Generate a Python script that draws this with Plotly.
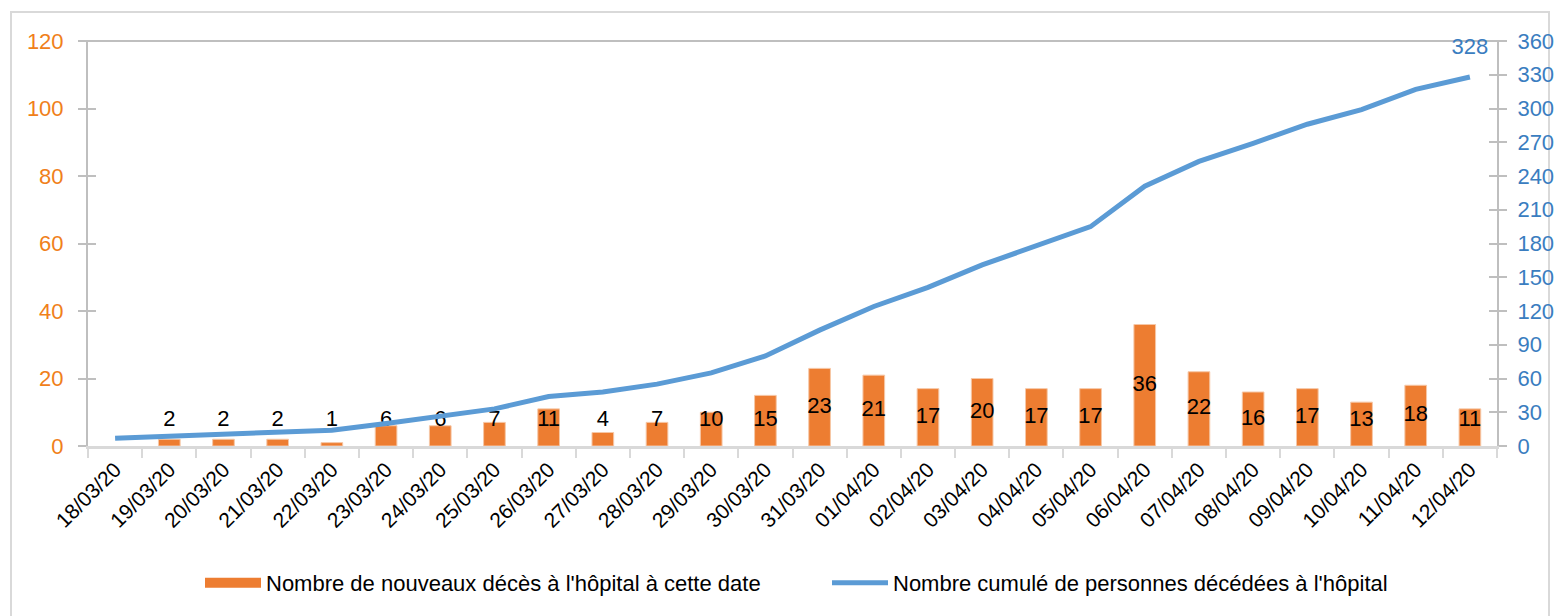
import plotly.graph_objects as go

dates = ["18/03/20", "19/03/20", "20/03/20", "21/03/20", "22/03/20", "23/03/20", "24/03/20",
         "25/03/20", "26/03/20", "27/03/20", "28/03/20", "29/03/20", "30/03/20", "31/03/20",
         "01/04/20", "02/04/20", "03/04/20", "04/04/20", "05/04/20", "06/04/20", "07/04/20",
         "08/04/20", "09/04/20", "10/04/20", "11/04/20", "12/04/20"]
new_deaths = [None, 2, 2, 2, 1, 6, 6, 7, 11, 4, 7, 10, 15, 23, 21, 17, 20, 17, 17, 36, 22,
              16, 17, 13, 18, 11]
cumul = [7, 9, 11, 13, 14, 20, 26, 33, 44, 48, 55, 65, 80, 103, 124, 141, 161, 178, 195,
         231, 253, 269, 286, 299, 317, 328]
left_ticks = [0, 20, 40, 60, 80, 100, 120]
right_ticks = [0, 30, 60, 90, 120, 150, 180, 210, 240, 270, 300, 330, 360]

name_bar = "Nombre de nouveaux décès à l'hôpital à cette date"
name_line = "Nombre cumulé de personnes décédées à l'hôpital"

FONT = "Liberation Sans, Arial, sans-serif"
ORANGE = "#ED7D31"
BLUE = "#5B9BD5"
W, H = 1559, 616
L, R, T, B = 88, 62, 41, 170
pw, ph = W - L - R, H - T - B

fig = go.Figure()
fig.add_trace(go.Bar(x=dates, y=new_deaths, marker=dict(color=ORANGE, line=dict(color="#F6C7A6", width=1)),
                     width=0.4, showlegend=False, yaxis="y"))
# legend proxy for bars
fig.add_trace(go.Scatter(x=[None], y=[None], mode="lines", line=dict(color=ORANGE, width=14),
                         name=name_bar, yaxis="y"))
# data labels
lab_x = [d for d, v in zip(dates, new_deaths) if v is not None]
lab_v = [v for v in new_deaths if v is not None]
fig.add_trace(go.Scatter(x=lab_x, y=[max(v / 2, 7.6) for v in lab_v], mode="text",
                         text=[str(v) for v in lab_v], textfont=dict(family=FONT, size=22, color="black"),
                         showlegend=False, hoverinfo="skip", yaxis="y"))
n = len(cumul)
fig.add_trace(go.Scatter(x=dates, y=cumul, mode="lines+markers+text", line=dict(color=BLUE, width=5),
                         marker=dict(size=[0] * (n - 1) + [26], opacity=0, line=dict(width=0)),
                         text=[""] * (n - 1) + [str(cumul[-1])], textposition="top center",
                         textfont=dict(family=FONT, size=22, color="#3A7DC0"),
                         name=name_line, yaxis="y2", cliponaxis=False))

axis_common = dict(showgrid=False, zeroline=False, showline=True, linecolor="#BFBFBF", linewidth=2,
                   ticks="outside", ticklen=8, tickcolor="#BFBFBF", tickwidth=2, automargin=False)

def px2x(p):
    return (p - L) / pw

def px2y(p):
    return (H - B - p) / ph

fig.update_layout(
    width=W, height=H, margin=dict(l=L, r=R, t=T, b=B, autoexpand=False),
    paper_bgcolor="white", plot_bgcolor="white",
    font=dict(family=FONT, size=22, color="black"),
    bargap=0.6,
    xaxis=dict(type="category", range=[-0.5, 25.5], tickangle=-45, tickson="boundaries",
               showgrid=False, zeroline=False, showline=True, linecolor="#D9D9D9", linewidth=3,
               ticks="outside", ticklen=9, tickcolor="#D9D9D9", tickwidth=2, automargin=False,
               tickfont=dict(family=FONT, size=21, color="black")),
    yaxis=dict(range=[0, 120], tickvals=left_ticks, tickfont=dict(family=FONT, size=22, color="#F0801A"),
               ticklabelstandoff=10, **axis_common),
    yaxis2=dict(range=[0, 360], tickvals=right_ticks, overlaying="y", side="right",
                tickfont=dict(family=FONT, size=22, color="#3A7DC0"), ticklabelstandoff=6, **axis_common),
    # inner halves of cross ticks
    yaxis3=dict(range=[0, 120], tickvals=left_ticks, overlaying="y", side="left", showticklabels=False,
                showgrid=False, zeroline=False, showline=False, ticks="inside", ticklen=8,
                tickcolor="#BFBFBF", tickwidth=2, automargin=False),
    yaxis4=dict(range=[0, 360], tickvals=right_ticks, overlaying="y", side="right", showticklabels=False,
                showgrid=False, zeroline=False, showline=False, ticks="inside", ticklen=8,
                tickcolor="#BFBFBF", tickwidth=2, automargin=False),
    legend=dict(orientation="h", x=px2x(200), xanchor="left", y=px2y(583), yanchor="middle",
                font=dict(family=FONT, size=22, color="black"), itemwidth=56, entrywidth=556,
                bgcolor="rgba(0,0,0,0)", traceorder="normal"),
    shapes=[
        dict(type="line", xref="paper", yref="paper", x0=px2x(80), x1=px2x(1505), y0=1, y1=1,
             line=dict(color="#BFBFBF", width=2), layer="below"),
        dict(type="rect", xref="paper", yref="paper", x0=px2x(11), x1=px2x(1549), y0=px2y(12), y1=px2y(630),
             line=dict(color="#D9D9D9", width=2), layer="below"),
    ],
)
# dummy traces for tick axes
fig.add_trace(go.Scatter(x=[None], y=[None], yaxis="y3", showlegend=False))
fig.add_trace(go.Scatter(x=[None], y=[None], yaxis="y4", showlegend=False))

fig.write_html("out.html", config={"displayModeBar": False},
               post_script="document.body.style.margin='0';document.body.style.overflow='hidden';")
